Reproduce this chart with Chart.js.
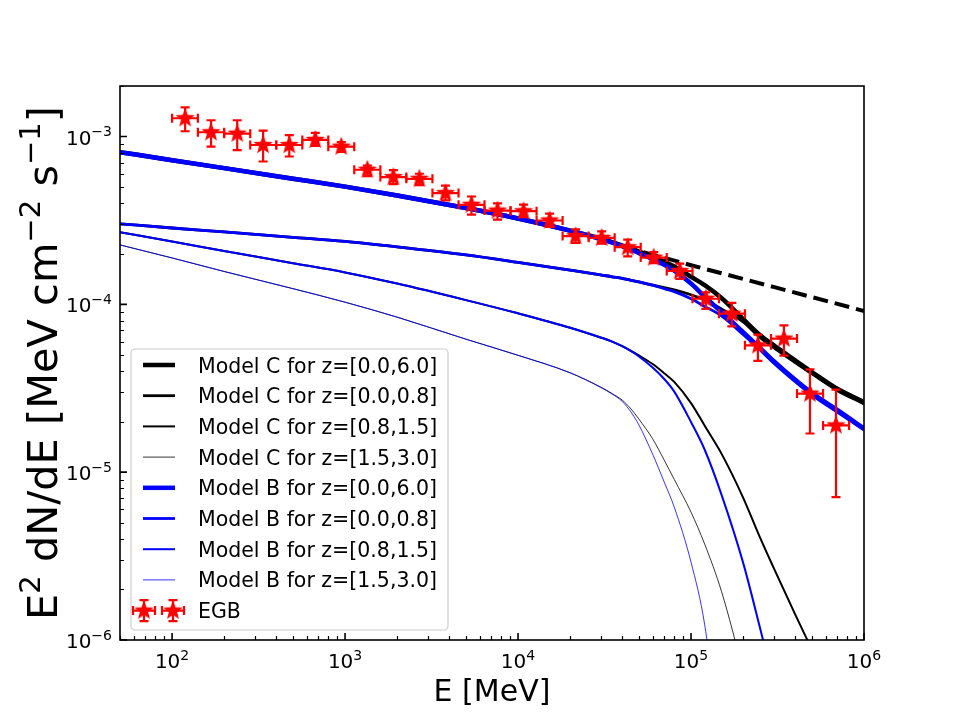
<!DOCTYPE html>
<html>
<head>
<meta charset="utf-8">
<script src="https://cdn.jsdelivr.net/npm/chart.js@4.4.0/dist/chart.umd.min.js"></script>
<style>
  html, body { margin: 0; padding: 0; background: #fff; }
  #wrap { width: 960px; height: 720px; }
</style>
</head>
<body>
<div id="wrap"><canvas id="chart" width="960" height="720"></canvas></div>
<script>
// EGB data points (MeV, MeV cm^-2 s^-1)
const egbEnergy = [119, 168, 238, 336, 476, 673, 951, 1345, 1902, 2690, 3805, 5380, 7610,
                   10760, 15220, 21520, 30440, 43050, 60880, 86100, 121800, 172200, 243500, 344400, 487100, 688800];
const egbLow = [100, 141, 200, 283, 400, 566, 800, 1130, 1600, 2260, 3200, 4530, 6400,
                9050, 12800, 18100, 25600, 36200, 51200, 72400, 102000, 145000, 205000, 290000, 410000, 580000];
const egbHigh = [141, 200, 283, 400, 566, 800, 1130, 1600, 2260, 3200, 4530, 6400, 9050,
                 12800, 18100, 25600, 36200, 51200, 72400, 102000, 145000, 205000, 290000, 410000, 580000, 820000];
const egbFlux = [1.285e-3, 1.06e-3, 1.04e-3, 8.9e-4, 8.9e-4, 9.55e-4, 8.7e-4, 6.34e-4, 5.73e-4, 5.6e-4, 4.6e-4, 3.92e-4, 3.62e-4,
                 3.59e-4, 3.16e-4, 2.55e-4, 2.49e-4, 2.19e-4, 1.9e-4, 1.58e-4, 1.08e-4, 8.8e-5, 5.7e-5, 6.25e-5, 2.94e-5, 1.9e-5];
const egbFluxHi = [1.49e-3, 1.25e-3, 1.25e-3, 1.085e-3, 1.02e-3, 1.05e-3, 9.25e-4, 6.7e-4, 6.3e-4, 6.0e-4, 5.1e-4, 4.39e-4, 4.0e-4,
                   3.93e-4, 3.47e-4, 2.8e-4, 2.72e-4, 2.43e-4, 2.05e-4, 1.75e-4, 1.18e-4, 1.02e-4, 6.6e-5, 7.5e-5, 4.1e-5, 3.1e-5];
const egbFluxLo = [1.075e-3, 8.7e-4, 8.3e-4, 7.1e-4, 7.6e-4, 8.8e-4, 8.1e-4, 5.8e-4, 5.2e-4, 5.13e-4, 4.16e-4, 3.42e-4, 3.2e-4,
                   3.31e-4, 2.89e-4, 2.32e-4, 2.3e-4, 1.93e-4, 1.76e-4, 1.42e-4, 9.4e-5, 7.4e-5, 4.6e-5, 4.95e-5, 1.7e-5, 7.1e-6];

// model curves on a common energy grid (null = off the plot)
const modelEnergy = [50, 100, 200, 500, 1000, 2000, 5000, 1e4, 2e4, 3e4, 3.5e4, 4e4, 4.5e4, 5e4, 6e4, 7e4, 8e4,
                     1e5, 1.2e5, 1.5e5, 2e5, 2.5e5, 3e5, 4e5, 5e5, 7e5, 1e6];
const modelB_0_6 = [8.07e-4, 7.23e-4, 6.48e-4, 5.61e-4, 5.03e-4, 4.45e-4, 3.75e-4, 3.25e-4, 2.75e-4, 2.45e-4, 2.33e-4, 2.22e-4, 2.12e-4, 2.02e-4, 1.86e-4, 1.72e-4, 1.59e-4,
                    1.33e-4, 1.11e-4, 9.0e-5, 6.84e-5, 5.51e-5, 4.60e-5, 3.55e-5, 2.96e-5, 2.35e-5, 1.82e-5];
const modelB_0_08 = [3.02e-4, 2.85e-4, 2.70e-4, 2.51e-4, 2.37e-4, 2.20e-4, 1.97e-4, 1.78e-4, 1.60e-4, 1.50e-4, 1.46e-4, 1.43e-4, 1.39e-4, 1.36e-4, 1.30e-4, 1.24e-4, 1.19e-4,
                     1.08e-4, 9.72e-5, 8.53e-5, 6.61e-5, 5.36e-5, 4.47e-5, 3.46e-5, 2.88e-5, 2.28e-5, 1.78e-5];
const modelB_08_15 = [2.69e-4, 2.37e-4, 2.08e-4, 1.76e-4, 1.55e-4, 1.33e-4, 1.06e-4, 8.84e-5, 7.26e-5, 6.35e-5, 6.00e-5, 5.63e-5, 5.26e-5, 4.89e-5, 4.20e-5, 3.59e-5, 3.02e-5,
                      1.99e-5, 1.36e-5, 7.35e-6, 2.89e-6, 1.19e-6, 5.6e-7, null, null, null, null];
const modelB_15_30 = [2.26e-4, 1.89e-4, 1.57e-4, 1.24e-4, 1.03e-4, 8.39e-5, 6.20e-5, 4.97e-5, 3.91e-5, 3.20e-5, 2.92e-5, 2.64e-5, 2.28e-5, 1.91e-5, 1.28e-5, 8.73e-6, 6.19e-6,
                      2.91e-6, 1.23e-6, 2.0e-7, null, null, null, null, null, null, null];
const modelC_0_6 = [8.07e-4, 7.23e-4, 6.48e-4, 5.61e-4, 5.03e-4, 4.45e-4, 3.75e-4, 3.25e-4, 2.75e-4, 2.47e-4, 2.35e-4, 2.24e-4, 2.15e-4, 2.06e-4, 1.92e-4, 1.79e-4, 1.68e-4,
                    1.46e-4, 1.30e-4, 1.09e-4, 8.18e-5, 6.57e-5, 5.71e-5, 4.64e-5, 3.95e-5, 3.14e-5, 2.62e-5];
const modelC_0_08 = [3.02e-4, 2.85e-4, 2.70e-4, 2.51e-4, 2.37e-4, 2.20e-4, 1.97e-4, 1.78e-4, 1.60e-4, 1.50e-4, 1.46e-4, 1.43e-4, 1.39e-4, 1.36e-4, 1.30e-4, 1.26e-4, 1.22e-4,
                     1.14e-4, 1.06e-4, 9.39e-5, 7.85e-5, 6.35e-5, 5.53e-5, 4.50e-5, 3.85e-5, 3.07e-5, 2.55e-5];
const modelC_08_15 = [2.69e-4, 2.37e-4, 2.08e-4, 1.76e-4, 1.55e-4, 1.33e-4, 1.06e-4, 8.84e-5, 7.26e-5, 6.35e-5, 6.00e-5, 5.63e-5, 5.28e-5, 4.96e-5, 4.41e-5, 3.89e-5, 3.45e-5,
                      2.58e-5, 1.89e-5, 1.29e-5, 7.06e-6, 4.10e-6, 2.70e-6, 1.42e-6, 8.77e-7, null, null];
const modelC_15_30 = [2.26e-4, 1.89e-4, 1.57e-4, 1.24e-4, 1.03e-4, 8.39e-5, 6.20e-5, 4.97e-5, 3.91e-5, 3.22e-5, 2.94e-5, 2.69e-5, 2.38e-5, 2.07e-5, 1.58e-5, 1.18e-5, 9.05e-6,
                      5.78e-6, 3.72e-6, 1.95e-6, 6.58e-7, null, null, null, null, null, null];
// unabsorbed model C (dashed)
const dashedEnergy = [4e4, 1e5, 3e5, 1e6];
const dashedFlux = [2.22e-4, 1.71e-4, 1.27e-4, 9.13e-5];

const xMajorTicks = [1e2, 1e3, 1e4, 1e5, 1e6];
const xTickExp = ['2', '3', '4', '5', '6'];
const yMajorTicks = [1e-6, 1e-5, 1e-4, 1e-3];
const yTickExp = ['\u22126', '\u22125', '\u22124', '\u22123'];

const FONT = '"DejaVu Sans", "Liberation Sans", sans-serif';

function pts(xs, ys) {
    return xs.map((e, i) => ({ x: e, y: ys[i] })).filter(p => p.y !== null);
}

function makeStar(color) {
    const c = document.createElement('canvas');
    c.width = 22; c.height = 22;
    const g = c.getContext('2d');
    g.beginPath();
    for (let i = 0; i < 10; i++) {
        const r = i % 2 === 0 ? 8 : 3.4;
        const a = -Math.PI / 2 + i * Math.PI / 5;
        const px = 11 + r * Math.cos(a), py = 11 + r * Math.sin(a);
        if (i === 0) g.moveTo(px, py); else g.lineTo(px, py);
    }
    g.closePath();
    g.fillStyle = color; g.fill();
    g.strokeStyle = color; g.lineWidth = 1.5; g.stroke();
    return c;
}
const star = makeStar('#ff0000');

function line(label, data, color, width, order, extra) {
    return Object.assign({
        label: label, data: data, borderColor: color, backgroundColor: color,
        borderWidth: width, pointRadius: 0, fill: false, order: order, clip: 0,
        cubicInterpolationMode: 'monotone'
    }, extra || {});
}

const datasets = [
    { label: 'EGB', data: pts(egbEnergy, egbFlux), showLine: false, pointStyle: star,
      pointRadius: 6, borderColor: '#ff0000', backgroundColor: '#ff0000', order: 0, clip: 0 },
    line('Model B for z=[0.0,6.0]', pts(modelEnergy, modelB_0_6), '#0000ff', 4.5, 1),
    line('Model B for z=[0.0,0.8]', pts(modelEnergy, modelB_0_08), '#0000ff', 2.8, 2),
    line('Model B for z=[0.8,1.5]', pts(modelEnergy, modelB_08_15), '#0000ff', 2.0, 3),
    line('Model B for z=[1.5,3.0]', pts(modelEnergy, modelB_15_30), '#0000ff', 0.8, 4),
    line('Model C for z=[0.0,6.0]', pts(modelEnergy, modelC_0_6), '#000000', 4.5, 5),
    line('Model C for z=[0.0,0.8]', pts(modelEnergy, modelC_0_08), '#000000', 2.8, 6),
    line('Model C for z=[0.8,1.5]', pts(modelEnergy, modelC_08_15), '#000000', 2.0, 7),
    line('Model C for z=[1.5,3.0]', pts(modelEnergy, modelC_15_30), '#000000', 0.8, 8),
    line('unabsorbed', pts(dashedEnergy, dashedFlux), '#000000', 4, 9, { borderDash: [15, 7], cubicInterpolationMode: 'default', tension: 0 })
];

const legendOrder = [
    'Model C for z=[0.0,6.0]', 'Model C for z=[0.0,0.8]', 'Model C for z=[0.8,1.5]', 'Model C for z=[1.5,3.0]',
    'Model B for z=[0.0,6.0]', 'Model B for z=[0.0,0.8]', 'Model B for z=[0.8,1.5]', 'Model B for z=[1.5,3.0]', 'EGB'
];

function drawErr(ctx, cx, cy, x0, x1, y0, y1, cap) {
    ctx.beginPath();
    ctx.moveTo(x0, cy); ctx.lineTo(x1, cy);
    ctx.moveTo(cx, y0); ctx.lineTo(cx, y1);
    ctx.moveTo(x0, cy - cap); ctx.lineTo(x0, cy + cap);
    ctx.moveTo(x1, cy - cap); ctx.lineTo(x1, cy + cap);
    ctx.moveTo(cx - cap, y0); ctx.lineTo(cx + cap, y0);
    ctx.moveTo(cx - cap, y1); ctx.lineTo(cx + cap, y1);
    ctx.stroke();
}

// error bars go right under the star markers
const errorBars = {
    id: 'errorBars',
    beforeDatasetDraw(chart, args) {
        if (chart.data.datasets[args.index].label !== 'EGB') return;
        const { ctx, chartArea: a } = chart;
        const x = chart.scales.x, y = chart.scales.y;
        ctx.save();
        ctx.beginPath();
        ctx.rect(a.left, a.top, a.right - a.left, a.bottom - a.top);
        ctx.clip();
        ctx.strokeStyle = '#ff0000';
        ctx.lineWidth = 2.2;
        egbEnergy.forEach((e, i) => {
            drawErr(ctx, x.getPixelForValue(e), y.getPixelForValue(egbFlux[i]),
                x.getPixelForValue(egbLow[i]), x.getPixelForValue(egbHigh[i]),
                y.getPixelForValue(egbFluxLo[i]), y.getPixelForValue(egbFluxHi[i]), 4.5);
        });
        ctx.restore();
    }
};

function richWidth(ctx, parts, size) {
    let w = 0;
    parts.forEach(p => {
        ctx.font = (p.sup ? size * 0.7 : size) + 'px ' + FONT;
        w += ctx.measureText(p.t).width;
    });
    return w;
}
function drawRich(ctx, parts, x, y, size) {
    parts.forEach(p => {
        const s = p.sup ? size * 0.7 : size;
        ctx.font = s + 'px ' + FONT;
        ctx.fillText(p.t, x, p.sup ? y - size * 0.42 : y);
        x += ctx.measureText(p.t).width;
    });
}

// frame, inward ticks, tick labels, axis titles
const axesDecor = {
    id: 'axesDecor',
    afterDatasetsDraw(chart) {
        const { ctx, chartArea: a } = chart;
        const x = chart.scales.x, y = chart.scales.y;
        ctx.save();
        ctx.strokeStyle = '#000';
        ctx.fillStyle = '#000';
        ctx.textBaseline = 'alphabetic';
        ctx.textAlign = 'left';

        // minor ticks
        ctx.lineWidth = 1.2;
        ctx.beginPath();
        for (let d = 1; d <= 5; d++) {
            for (let m = 2; m <= 9; m++) {
                const v = m * Math.pow(10, d);
                if (v < 50 || v > 1e6) continue;
                const px = Math.round(x.getPixelForValue(v)) + 0.5;
                ctx.moveTo(px, a.bottom); ctx.lineTo(px, a.bottom - 4);
            }
        }
        for (let d = -6; d <= -3; d++) {
            for (let m = 2; m <= 9; m++) {
                const v = m * Math.pow(10, d);
                if (v > 2e-3) continue;
                const py = Math.round(y.getPixelForValue(v)) + 0.5;
                ctx.moveTo(a.left, py); ctx.lineTo(a.left + 4, py);
            }
        }
        ctx.stroke();

        // major ticks and labels
        ctx.lineWidth = 1.6;
        ctx.beginPath();
        xMajorTicks.forEach(v => {
            const px = x.getPixelForValue(v);
            ctx.moveTo(px, a.bottom); ctx.lineTo(px, a.bottom - 7);
        });
        yMajorTicks.forEach(v => {
            const py = y.getPixelForValue(v);
            ctx.moveTo(a.left, py); ctx.lineTo(a.left + 7, py);
        });
        ctx.stroke();

        const tsize = 20;
        xMajorTicks.forEach((v, i) => {
            const parts = [{ t: '10' }, { t: xTickExp[i], sup: true }];
            const w = richWidth(ctx, parts, tsize);
            drawRich(ctx, parts, x.getPixelForValue(v) - w / 2, a.bottom + 28, tsize);
        });
        yMajorTicks.forEach((v, i) => {
            const parts = [{ t: '10' }, { t: yTickExp[i], sup: true }];
            const w = richWidth(ctx, parts, tsize);
            drawRich(ctx, parts, a.left - 8 - w, y.getPixelForValue(v) + 8, tsize);
        });

        // frame
        ctx.lineWidth = 1.6;
        ctx.strokeRect(a.left, a.top, a.right - a.left, a.bottom - a.top);

        // axis titles
        const xt = [{ t: 'E [MeV]' }];
        const xw = richWidth(ctx, xt, 30);
        drawRich(ctx, xt, (a.left + a.right) / 2 - xw / 2, 701, 30);

        const ysize = 41.5;
        const yt = [{ t: 'E' }, { t: '2', sup: true }, { t: ' dN/dE [MeV cm' }, { t: '\u22122', sup: true },
                    { t: ' s' }, { t: '\u22121', sup: true }, { t: ']' }];
        const yw = richWidth(ctx, yt, ysize);
        ctx.translate(57, (a.top + a.bottom) / 2);
        ctx.rotate(-Math.PI / 2);
        drawRich(ctx, yt, -yw / 2, 0, ysize);
        ctx.restore();
    }
};

// legend box in the lower left of the axes
const legendBox = {
    id: 'legendBox',
    afterDraw(chart) {
        const ctx = chart.ctx;
        const bx = 131, by = 349, bw = 317, bh = 281, r = 4;
        ctx.save();
        ctx.beginPath();
        ctx.moveTo(bx + r, by);
        ctx.arcTo(bx + bw, by, bx + bw, by + bh, r);
        ctx.arcTo(bx + bw, by + bh, bx, by + bh, r);
        ctx.arcTo(bx, by + bh, bx, by, r);
        ctx.arcTo(bx, by, bx + bw, by, r);
        ctx.closePath();
        ctx.fillStyle = 'rgba(255,255,255,0.8)';
        ctx.fill();
        ctx.strokeStyle = '#cccccc';
        ctx.lineWidth = 1.2;
        ctx.stroke();

        const rowY0 = 365, rowStep = 30.7;
        legendOrder.forEach((name, i) => {
            const ds = chart.data.datasets.find(d => d.label === name);
            const ry = rowY0 + i * rowStep;
            if (name === 'EGB') {
                ctx.strokeStyle = '#ff0000';
                ctx.lineWidth = 2.2;
                [144, 173].forEach(mx => {
                    drawErr(ctx, mx, ry, mx - 11, mx + 11, ry + 10.5, ry - 10.5, 4.5);
                    ctx.drawImage(star, mx - star.width / 2, ry - star.height / 2);
                });
            } else {
                ctx.strokeStyle = ds.borderColor;
                ctx.lineWidth = ds.borderWidth;
                ctx.beginPath();
                ctx.moveTo(143, ry); ctx.lineTo(175, ry);
                ctx.stroke();
            }
            ctx.fillStyle = '#000';
            ctx.font = '20.5px ' + FONT;
            ctx.textAlign = 'left';
            ctx.textBaseline = 'alphabetic';
            ctx.fillText(name, 198, ry + 7.5);
        });
        ctx.restore();
    }
};

new Chart(document.getElementById('chart').getContext('2d'), {
    type: 'line',
    data: { datasets: datasets },
    options: {
        responsive: false,
        animation: false,
        devicePixelRatio: 1,
        layout: { padding: { left: 120, top: 86, right: 96, bottom: 80 } },
        plugins: { legend: { display: false }, tooltip: { enabled: false } },
        scales: {
            x: { type: 'logarithmic', min: 50, max: 1e6, display: false },
            y: { type: 'logarithmic', min: 1e-6, max: 2e-3, display: false }
        }
    },
    plugins: [errorBars, axesDecor, legendBox]
});
</script>
</body>
</html>
